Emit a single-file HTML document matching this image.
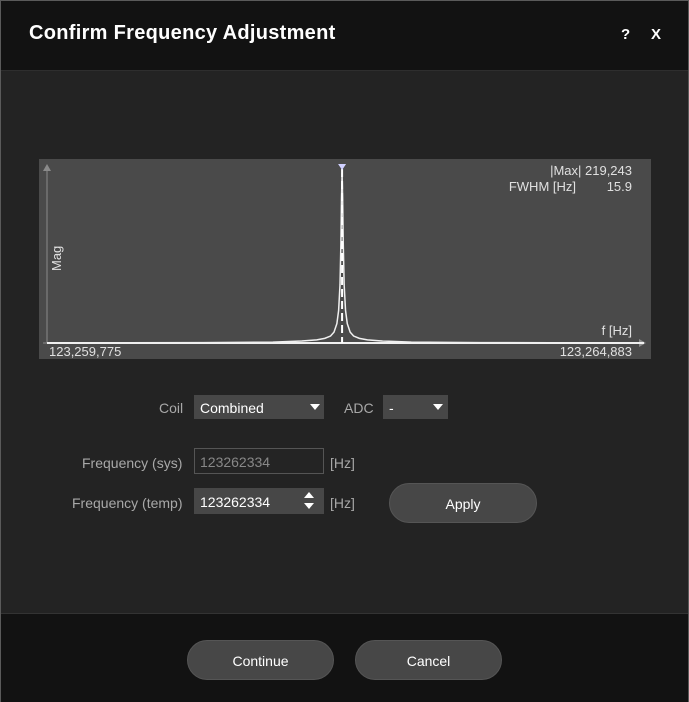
<!DOCTYPE html>
<html><head><meta charset="utf-8">
<style>
body{margin:0;width:689px;height:702px;background:#232323;font-family:"Liberation Sans",sans-serif;overflow:hidden;position:relative}
.dlg{position:absolute;left:0;top:0;width:687px;height:700px;border:1px solid #5a5a5a;background:#232323}
.title{position:absolute;left:0;top:0;width:687px;height:69px;background:#121212;border-bottom:1px solid #2e2e2e}
.title h1{position:absolute;left:28px;top:21px;margin:0;font-size:20px;color:#fff;font-weight:bold;letter-spacing:0.3px}
.tb{position:absolute;top:25px;color:#fff;font-weight:bold;font-size:15px}
.footer{position:absolute;left:0;top:612px;width:687px;height:88px;background:#121212;border-top:1px solid #333}
.btn{position:absolute;background:#474747;border-radius:20px;color:#fff;font-size:14px;text-align:center;border:1px solid #555}
.lbl{position:absolute;color:#a8a8a8;font-size:14px}
.sel{position:absolute;background:#474747;color:#fff;font-size:14px;height:24px;line-height:26px;padding-left:6px;box-sizing:border-box}
.tri{position:absolute;width:0;height:0;border-left:5px solid transparent;border-right:5px solid transparent;border-top:6px solid #fff}
</style></head><body>
<div class="dlg">
<div class="title">
<h1>Confirm Frequency Adjustment</h1>
<span class="tb" style="left:620px">?</span>
<span class="tb" style="left:650px">X</span>
</div>

<svg id="chart" style="position:absolute;left:38px;top:158px" width="612" height="200"></svg>

<span class="lbl" style="left:158px;top:399px">Coil</span>
<div class="sel" style="left:193px;top:394px;width:130px">Combined<div class="tri" style="left:116px;top:9px"></div></div>
<span class="lbl" style="left:343px;top:399px">ADC</span>
<div class="sel" style="left:382px;top:394px;width:65px">-<div class="tri" style="left:50px;top:9px"></div></div>

<span class="lbl" style="left:81px;top:454px">Frequency (sys)</span>
<div class="sel" style="left:193px;top:447px;width:130px;height:26px;background:#242424;border:1px solid #555;color:#888;line-height:26px;padding-left:5px">123262334</div>
<span class="lbl" style="left:329px;top:454px">[Hz]</span>

<span class="lbl" style="left:71px;top:494px">Frequency (temp)</span>
<div class="sel" style="left:193px;top:487px;width:130px;height:26px;line-height:28px">123262334
<div class="tri" style="left:110px;top:15px"></div><div class="tri" style="left:110px;top:4px;border-top:none;border-bottom:6px solid #fff"></div></div>
<span class="lbl" style="left:329px;top:494px">[Hz]</span>
<div class="btn" style="left:388px;top:482px;width:146px;height:38px;line-height:40px">Apply</div>

<div class="footer">
<div class="btn" style="left:186px;top:26px;width:145px;height:38px;line-height:40px">Continue</div>
<div class="btn" style="left:354px;top:26px;width:145px;height:38px;line-height:40px">Cancel</div>
</div>
</div>
<script>
const fMin = 123259775;
const fMax = 123264883;
const peakFreq = 123262334;
const maxMag = 219243;
const fwhm = 15.9;
const offsets = [-2559,-1200,-600,-350,-220,-150,-100,-70,-45,-30,-18,-10,-5,0,5,10,18,30,45,70,100,150,220,350,600,1200,2549];
const mags = [0,500,1200,2500,4000,6000,9000,14000,25000,42000,75000,130000,185000,219243,185000,130000,75000,42000,25000,14000,9000,6000,4000,2500,1200,500,0];
const NS="http://www.w3.org/2000/svg";
const svg=document.getElementById('chart');
const X0=8,X1=597,Y0=184,Y1=14;
const xs=f=>X0+(f-fMin)/(fMax-fMin)*(X1-X0);
const ys=m=>Y0-m/maxMag*(Y0-Y1);
function mk(t,a,txt){const e=document.createElementNS(NS,t);for(const k in a)e.setAttribute(k,a[k]);if(txt!==undefined)e.textContent=txt;svg.appendChild(e);return e;}
const bg=mk('rect',{x:0,y:0,width:612,height:200,fill:'#4a4a4a'});


const ya=mk('line',{x1:X0,y1:Y0,x2:X0,y2:6,stroke:'#8a8a8a','stroke-width':1});


mk('path',{d:`M${X0-4} 12 L${X0} 5 L${X0+4} 12Z`,fill:'#8a8a8a'});
const xa=mk('line',{x1:4,y1:Y0,x2:604,y2:Y0,stroke:'#8a8a8a','stroke-width':1});


mk('path',{d:`M600 ${Y0-4} L607 ${Y0} L600 ${Y0+4}Z`,fill:'#8a8a8a'});
const sp0=mk('polyline',{points:`${X0},${Y0} ${X1+8},${Y0}`,fill:'none',stroke:'#f0f0f0','stroke-width':2});
const px=xs(peakFreq);
const pts=offsets.map((o,i)=>`${xs(peakFreq+o).toFixed(2)},${ys(mags[i]).toFixed(2)}`).join(' ');
const sp=mk('polyline',{points:pts,fill:'none',stroke:'#f0f0f0','stroke-width':1.5});


const pl=mk('line',{x1:px,y1:10,x2:px,y2:Y0,stroke:'#fff','stroke-width':2,'stroke-dasharray':'8,4'});


mk('path',{d:`M${px-4} 5 L${px+4} 5 L${px} 11Z`,fill:'#d0d0ff'});
const t=[['x-min-label',10,197,'start','123,259,775'],['x-max-label',593,197,'end','123,264,883'],['x-axis-title',593,176,'end','f [Hz]'],['max-value',593,16,'end','|Max| 219,243'],['fwhm-label',537,32,'end','FWHM [Hz]'],['fwhm-value',593,32,'end',fwhm.toString()]];
t.forEach(a=>{const e=mk('text',{x:a[1],y:a[2],'text-anchor':a[3],fill:'#e0e0e0','font-size':13,'font-family':'Liberation Sans, sans-serif'},a[4]);

});
const yt=mk('text',{x:0,y:0,transform:'translate(22,112) rotate(-90)',fill:'#e0e0e0','font-size':13,'font-family':'Liberation Sans, sans-serif'},'Mag');


</script>
</body></html>
